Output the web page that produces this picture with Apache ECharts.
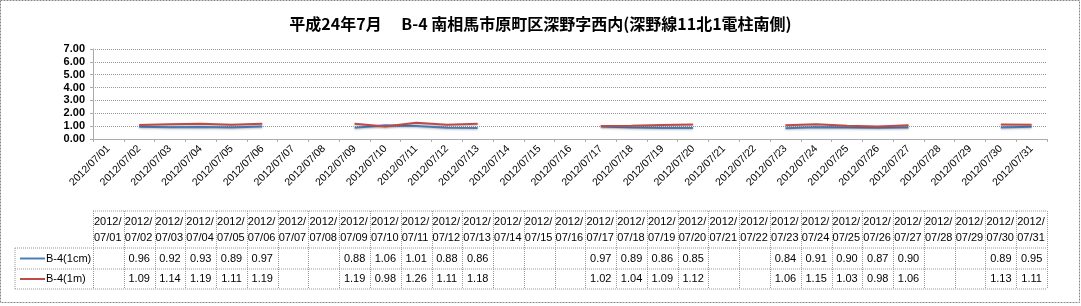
<!DOCTYPE html>
<html><head><meta charset="utf-8">
<script src="https://cdn.jsdelivr.net/npm/echarts@6/dist/echarts.min.js"></script>
<style>html,body{margin:0;padding:0;background:#fff}#c{width:1081px;height:306px}</style>
</head><body><div id="c"></div>
<script>
var titleText = '平成24年7月　 B-4 南相馬市原町区深野字西内(深野線11北1電柱南側)';
var categories = ['2012/07/01','2012/07/02','2012/07/03','2012/07/04','2012/07/05','2012/07/06','2012/07/07','2012/07/08','2012/07/09','2012/07/10','2012/07/11','2012/07/12','2012/07/13','2012/07/14','2012/07/15','2012/07/16','2012/07/17','2012/07/18','2012/07/19','2012/07/20','2012/07/21','2012/07/22','2012/07/23','2012/07/24','2012/07/25','2012/07/26','2012/07/27','2012/07/28','2012/07/29','2012/07/30','2012/07/31'];
var seriesNames = ['B-4(1cm)', 'B-4(1m)'];
var s1cm = [null,0.96,0.92,0.93,0.89,0.97,null,null,0.88,1.06,1.01,0.88,0.86,null,null,null,0.97,0.89,0.86,0.85,null,null,0.84,0.91,0.90,0.87,0.90,null,null,0.89,0.95];
var s1m = [null,1.09,1.14,1.19,1.11,1.19,null,null,1.19,0.98,1.26,1.11,1.18,null,null,null,1.02,1.04,1.09,1.12,null,null,1.06,1.15,1.03,0.98,1.06,null,null,1.13,1.11];
var colors = ['#4a7ebb', '#be4b48'];

var chart = echarts.init(document.getElementById('c'), null, {renderer:'canvas'});
var option = {
  animation: false,
  title: {text: titleText, left: 'center', top: 11, textStyle: {fontFamily: '"Noto Sans CJK JP"', fontSize: 16, fontWeight: 'bold', color: '#000'}},
  grid: {left: 93, right: 34, top: 49, bottom: 167},
  xAxis: {type: 'category', data: categories, boundaryGap: true,
    axisLine: {lineStyle: {color: '#aaa'}},
    axisTick: {show: true, length: 3, lineStyle: {color: '#aaa'}},
    axisLabel: {rotate: 45, fontSize: 10.5, color: '#000', fontFamily: 'Liberation Sans', margin: 8, interval: 0}},
  yAxis: {type: 'value', min: 0, max: 7, interval: 1,
    axisLine: {show: true, lineStyle: {color: '#aaa'}},
    axisTick: {show: true, length: 3, lineStyle: {color: '#aaa'}},
    splitLine: {lineStyle: {color: '#999', type: [1, 1]}},
    axisLabel: {formatter: function(v){return v.toFixed(2);}, fontSize: 11, fontWeight: 'bold', color: '#000', fontFamily: 'Liberation Sans', margin: 8}},
  series: [
    {name: seriesNames[0], type: 'line', data: s1cm, symbol: 'none', connectNulls: false, lineStyle: {color: colors[0], width: 2, shadowColor: 'rgba(0,0,0,0.25)', shadowBlur: 2, shadowOffsetY: 1}, itemStyle: {color: colors[0]}},
    {name: seriesNames[1], type: 'line', data: s1m, symbol: 'none', connectNulls: false, lineStyle: {color: colors[1], width: 2, shadowColor: 'rgba(0,0,0,0.25)', shadowBlur: 2, shadowOffsetY: 1}, itemStyle: {color: colors[1]}}
  ]
};
chart.setOption(option);

// table below chart, columns aligned to the category axis
var x0 = chart.convertToPixel({xAxisIndex: 0}, 0);
var x1 = chart.convertToPixel({xAxisIndex: 0}, 1);
var cw = x1 - x0;
var left = x0 - cw / 2;
var right = chart.convertToPixel({xAxisIndex: 0}, categories.length - 1) + cw / 2;
var legLeft = 15;
var hTop = 211, hBot = 248, r1Bot = 269, r2Bot = 289;
var lineSt = {stroke: '#999', lineWidth: 1, lineDash: [1, 1]};
var g = [];
function ln(xa, ya, xb, yb) { g.push({type: 'line', silent: true, shape: {x1: xa, y1: ya, x2: xb, y2: yb}, style: lineSt}); }
ln(left, hTop, right, hTop);
ln(legLeft, hBot, right, hBot);
ln(legLeft, r1Bot, right, r1Bot);
ln(legLeft, r2Bot, right, r2Bot);
ln(legLeft, hBot, legLeft, r2Bot);
for (var i = 0; i <= categories.length; i++) {
  var x = Math.round(left + i * cw) + 0.5;
  ln(x, hTop, x, r2Bot);
}
var tf = 'Liberation Sans';
categories.forEach(function(c, i){
  var cx = chart.convertToPixel({xAxisIndex: 0}, i);
  var parts = c.split('/');
  g.push({type: 'text', silent: true, x: left + i * cw + 1, y: hTop + 3, style: {text: parts[0] + '/\n' + parts[1] + '/' + parts[2], fill: '#000', font: '11px ' + tf, lineHeight: 16, textAlign: 'left', textVerticalAlign: 'top'}});
  [s1cm, s1m].forEach(function(arr, k){
    if (arr[i] == null) return;
    var yc = k === 0 ? (hBot + r1Bot) / 2 : (r1Bot + r2Bot) / 2;
    g.push({type: 'text', silent: true, x: cx, y: yc, style: {text: arr[i].toFixed(2), fill: '#000', font: '11px ' + tf, textAlign: 'center', textVerticalAlign: 'middle'}});
  });
});
seriesNames.forEach(function(n, k){
  var yc = k === 0 ? (hBot + r1Bot) / 2 : (r1Bot + r2Bot) / 2;
  g.push({type: 'line', silent: true, shape: {x1: 20, y1: yc, x2: 45, y2: yc}, style: {stroke: colors[k], lineWidth: 2}});
  g.push({type: 'text', silent: true, x: 46, y: yc, style: {text: n, fill: '#000', font: '11px ' + tf, textAlign: 'left', textVerticalAlign: 'middle'}});
});
// outer chart border
g.push({type: 'rect', silent: true, shape: {x: 0.5, y: 0.5, width: 1079, height: 302}, style: {fill: 'none', stroke: '#888', lineWidth: 1, lineDash: [2, 1]}});
chart.setOption({graphic: g});
</script></body></html>
